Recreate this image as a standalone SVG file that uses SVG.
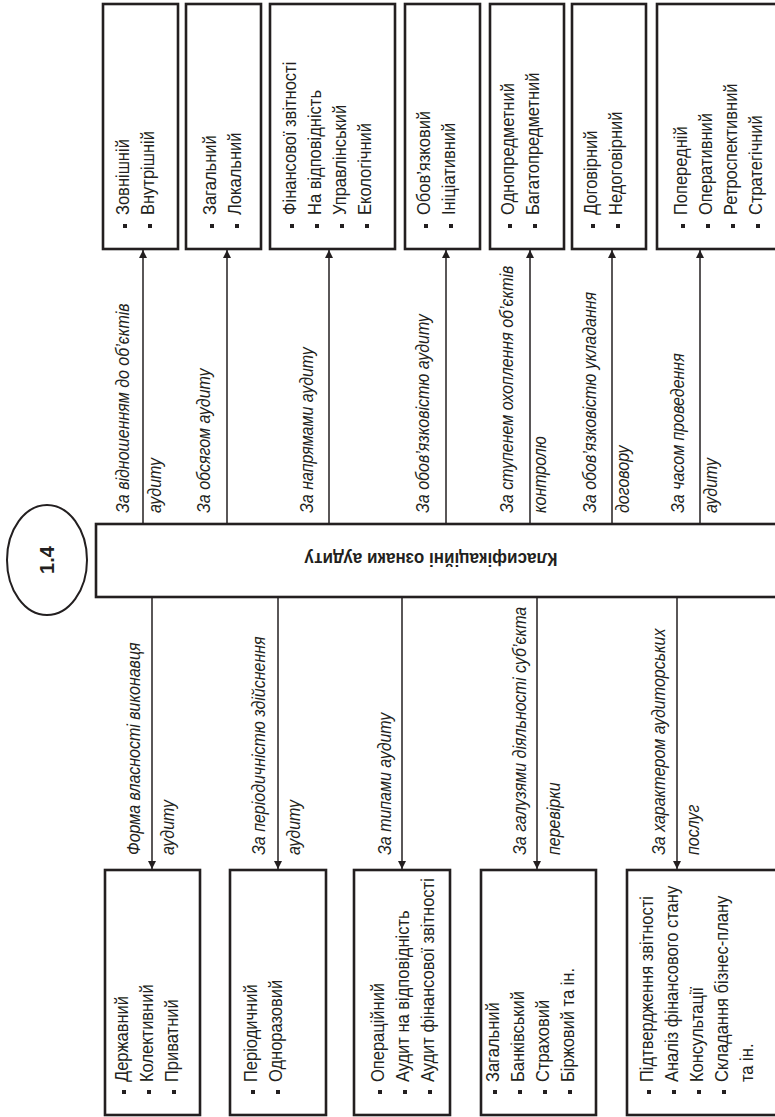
<svg xmlns="http://www.w3.org/2000/svg" width="775" height="1117" viewBox="0 0 775 1117">
  <style>
    .box { fill: #ffffff; stroke: #231f20; stroke-width: 2.6; }
    .badge { fill: #ffffff; stroke: #231f20; stroke-width: 2; }
    .item { font-family: "Liberation Sans", Arial, sans-serif; font-size: 16.5px; fill: #231f20; }
    .lbl { font-family: "Liberation Sans", Arial, sans-serif; font-style: italic; font-size: 16px; fill: #231f20; }
    .title { font-family: "Liberation Sans", Arial, sans-serif; font-weight: bold; font-size: 17px; fill: #231f20; }
    .num { font-family: "Liberation Sans", Arial, sans-serif; font-weight: bold; font-size: 20px; fill: #231f20; }
    .bul { fill: #231f20; }
    .conn { stroke: #231f20; stroke-width: 1.5; fill: none; marker-end: url(#ah); }
  </style>
  <defs>
    <marker id="ah" markerUnits="userSpaceOnUse" markerWidth="10" markerHeight="10" refX="8" refY="4" orient="auto">
      <path d="M0,0 L8,4 L0,8 Z" fill="#231f20"/>
    </marker>
  </defs>
  <rect width="775" height="1117" fill="#ffffff"/>

  <!-- badge with the figure number -->
  <g id="badge">
    <ellipse class="badge" cx="47" cy="560" rx="40" ry="55"/>
    <text class="num" text-anchor="middle" transform="translate(54,560) rotate(-90)">1.4</text>
  </g>

  <!-- central node -->
  <g id="central">
    <rect class="box" x="96" y="524" width="682" height="73"/>
    <text class="title" text-anchor="middle" transform="translate(431,553) rotate(180) scale(1,1.1)">Класифікаційні ознаки аудиту</text>
  </g>

  <!-- connectors and their labels -->
  <g id="connectors">
    <line class="conn" x1="143" y1="524" x2="143" y2="250"/>
    <line class="conn" x1="227" y1="524" x2="227" y2="250"/>
    <line class="conn" x1="329" y1="524" x2="329" y2="250"/>
    <line class="conn" x1="446" y1="524" x2="446" y2="250"/>
    <line class="conn" x1="530" y1="524" x2="530" y2="250"/>
    <line class="conn" x1="612" y1="524" x2="612" y2="250"/>
    <line class="conn" x1="700" y1="524" x2="700" y2="250"/>

    <line class="conn" x1="152" y1="597" x2="152" y2="869"/>
    <line class="conn" x1="278" y1="597" x2="278" y2="869"/>
    <line class="conn" x1="402" y1="597" x2="402" y2="869"/>
    <line class="conn" x1="537" y1="597" x2="537" y2="869"/>
    <line class="conn" x1="677" y1="597" x2="677" y2="869"/>

    <!-- upper labels -->
    <text class="lbl" transform="translate(129,513) rotate(-90) scale(1,1.1)">За відношенням до об’єктів</text>
    <text class="lbl" transform="translate(161,513) rotate(-90) scale(1,1.1)">аудиту</text>
    <text class="lbl" transform="translate(210,513) rotate(-90) scale(1,1.1)">За обсягом аудиту</text>
    <text class="lbl" transform="translate(313,513) rotate(-90) scale(1,1.1)">За напрямами аудиту</text>
    <text class="lbl" transform="translate(429,513) rotate(-90) scale(1,1.1)">За обов’язковістю аудиту</text>
    <text class="lbl" transform="translate(513,513) rotate(-90) scale(1,1.1)">За ступенем охоплення об’єктів</text>
    <text class="lbl" transform="translate(546,513) rotate(-90) scale(1,1.1)">контролю</text>
    <text class="lbl" transform="translate(596,513) rotate(-90) scale(1,1.1)">За обов’язковістю укладання</text>
    <text class="lbl" transform="translate(629,513) rotate(-90) scale(1,1.1)">договору</text>
    <text class="lbl" transform="translate(684,513) rotate(-90) scale(1,1.1)">За часом проведення</text>
    <text class="lbl" transform="translate(717,513) rotate(-90) scale(1,1.1)">аудиту</text>

    <!-- lower labels -->
    <text class="lbl" transform="translate(140,855) rotate(-90) scale(1,1.1)">Форма власності виконавця</text>
    <text class="lbl" transform="translate(174,855) rotate(-90) scale(1,1.1)">аудиту</text>
    <text class="lbl" transform="translate(265,855) rotate(-90) scale(1,1.1)">За періодичністю здійснення</text>
    <text class="lbl" transform="translate(300,855) rotate(-90) scale(1,1.1)">аудиту</text>
    <text class="lbl" transform="translate(391,855) rotate(-90) scale(1,1.1)">За типами аудиту</text>
    <text class="lbl" transform="translate(526,855) rotate(-90) scale(1,1.1)">За галузями діяльності суб’єкта</text>
    <text class="lbl" transform="translate(560,855) rotate(-90) scale(1,1.1)">перевірки</text>
    <text class="lbl" transform="translate(665,855) rotate(-90) scale(1,1.1)">За характером аудиторських</text>
    <text class="lbl" transform="translate(699,855) rotate(-90) scale(1,1.1)">послуг</text>
  </g>

  <!-- upper nodes -->
  <g id="t1">
    <rect class="box" x="103" y="4" width="75" height="245"/>
    <rect class="bul" x="123" y="224" width="4" height="4"/>
    <text class="item" transform="translate(129,215) rotate(-90) scale(1,1.1)">Зовнішній</text>
    <rect class="bul" x="148" y="224" width="4" height="4"/>
    <text class="item" transform="translate(154,215) rotate(-90) scale(1,1.1)">Внутрішній</text>
  </g>
  <g id="t2">
    <rect class="box" x="186" y="4" width="75" height="245"/>
    <rect class="bul" x="210" y="224" width="4" height="4"/>
    <text class="item" transform="translate(216,215) rotate(-90) scale(1,1.1)">Загальний</text>
    <rect class="bul" x="235" y="224" width="4" height="4"/>
    <text class="item" transform="translate(241,215) rotate(-90) scale(1,1.1)">Локальний</text>
  </g>
  <g id="t3">
    <rect class="box" x="270" y="4" width="125" height="245"/>
    <rect class="bul" x="290" y="224" width="4" height="4"/>
    <text class="item" transform="translate(296,215) rotate(-90) scale(1,1.1)">Фінансової звітності</text>
    <rect class="bul" x="315" y="224" width="4" height="4"/>
    <text class="item" transform="translate(321,215) rotate(-90) scale(1,1.1)">На відповідність</text>
    <rect class="bul" x="340" y="224" width="4" height="4"/>
    <text class="item" transform="translate(346,215) rotate(-90) scale(1,1.1)">Управлінський</text>
    <rect class="bul" x="365" y="224" width="4" height="4"/>
    <text class="item" transform="translate(371,215) rotate(-90) scale(1,1.1)">Екологічний</text>
  </g>
  <g id="t4">
    <rect class="box" x="405" y="4" width="75" height="245"/>
    <rect class="bul" x="424" y="224" width="4" height="4"/>
    <text class="item" transform="translate(430,215) rotate(-90) scale(1,1.1)">Обов’язковий</text>
    <rect class="bul" x="449" y="224" width="4" height="4"/>
    <text class="item" transform="translate(455,215) rotate(-90) scale(1,1.1)">Ініціативний</text>
  </g>
  <g id="t5">
    <rect class="box" x="490" y="4" width="74" height="245"/>
    <rect class="bul" x="508" y="224" width="4" height="4"/>
    <text class="item" transform="translate(514,215) rotate(-90) scale(1,1.1)">Однопредметний</text>
    <rect class="bul" x="533" y="224" width="4" height="4"/>
    <text class="item" transform="translate(539,215) rotate(-90) scale(1,1.1)">Багатопредметний</text>
  </g>
  <g id="t6">
    <rect class="box" x="572" y="4" width="74" height="245"/>
    <rect class="bul" x="591" y="224" width="4" height="4"/>
    <text class="item" transform="translate(597,215) rotate(-90) scale(1,1.1)">Договірний</text>
    <rect class="bul" x="616" y="224" width="4" height="4"/>
    <text class="item" transform="translate(622,215) rotate(-90) scale(1,1.1)">Недоговірний</text>
  </g>
  <g id="t7">
    <rect class="box" x="657" y="4" width="121" height="245"/>
    <rect class="bul" x="681" y="224" width="4" height="4"/>
    <text class="item" transform="translate(687,215) rotate(-90) scale(1,1.1)">Попередній</text>
    <rect class="bul" x="706" y="224" width="4" height="4"/>
    <text class="item" transform="translate(712,215) rotate(-90) scale(1,1.1)">Оперативний</text>
    <rect class="bul" x="731" y="224" width="4" height="4"/>
    <text class="item" transform="translate(737,215) rotate(-90) scale(1,1.1)">Ретроспективний</text>
    <rect class="bul" x="756" y="224" width="4" height="4"/>
    <text class="item" transform="translate(762,215) rotate(-90) scale(1,1.1)">Стратегічний</text>
  </g>

  <!-- lower nodes -->
  <g id="b1">
    <rect class="box" x="105" y="870" width="95" height="245"/>
    <rect class="bul" x="122" y="1090" width="4" height="4"/>
    <text class="item" transform="translate(128,1082) rotate(-90) scale(1,1.1)">Державний</text>
    <rect class="bul" x="147" y="1090" width="4" height="4"/>
    <text class="item" transform="translate(153,1082) rotate(-90) scale(1,1.1)">Колективний</text>
    <rect class="bul" x="172" y="1090" width="4" height="4"/>
    <text class="item" transform="translate(178,1082) rotate(-90) scale(1,1.1)">Приватний</text>
  </g>
  <g id="b2">
    <rect class="box" x="230" y="870" width="96" height="245"/>
    <rect class="bul" x="251" y="1090" width="4" height="4"/>
    <text class="item" transform="translate(257,1082) rotate(-90) scale(1,1.1)">Періодичний</text>
    <rect class="bul" x="276" y="1090" width="4" height="4"/>
    <text class="item" transform="translate(282,1082) rotate(-90) scale(1,1.1)">Одноразовий</text>
  </g>
  <g id="b3">
    <rect class="box" x="354" y="870" width="96" height="245"/>
    <rect class="bul" x="378" y="1090" width="4" height="4"/>
    <text class="item" transform="translate(384,1082) rotate(-90) scale(1,1.1)">Операційний</text>
    <rect class="bul" x="403" y="1090" width="4" height="4"/>
    <text class="item" transform="translate(409,1082) rotate(-90) scale(1,1.1)">Аудит на відповідність</text>
    <rect class="bul" x="428" y="1090" width="4" height="4"/>
    <text class="item" transform="translate(434,1082) rotate(-90) scale(1,1.1)">Аудит фінансової звітності</text>
  </g>
  <g id="b4">
    <rect class="box" x="481" y="870" width="115" height="245"/>
    <rect class="bul" x="493" y="1090" width="4" height="4"/>
    <text class="item" transform="translate(499,1082) rotate(-90) scale(1,1.1)">Загальний</text>
    <rect class="bul" x="518" y="1090" width="4" height="4"/>
    <text class="item" transform="translate(524,1082) rotate(-90) scale(1,1.1)">Банківський</text>
    <rect class="bul" x="543" y="1090" width="4" height="4"/>
    <text class="item" transform="translate(549,1082) rotate(-90) scale(1,1.1)">Страховий</text>
    <rect class="bul" x="568" y="1090" width="4" height="4"/>
    <text class="item" transform="translate(574,1082) rotate(-90) scale(1,1.1)">Біржовий та ін.</text>
  </g>
  <g id="b5">
    <rect class="box" x="627" y="870" width="151" height="245"/>
    <rect class="bul" x="647" y="1090" width="4" height="4"/>
    <text class="item" transform="translate(653,1082) rotate(-90) scale(1,1.1)">Підтвердження звітності</text>
    <rect class="bul" x="672" y="1090" width="4" height="4"/>
    <text class="item" transform="translate(678,1082) rotate(-90) scale(1,1.1)">Аналіз фінансового стану</text>
    <rect class="bul" x="697" y="1090" width="4" height="4"/>
    <text class="item" transform="translate(703,1082) rotate(-90) scale(1,1.1)">Консультації</text>
    <rect class="bul" x="722" y="1090" width="4" height="4"/>
    <text class="item" transform="translate(728,1082) rotate(-90) scale(1,1.1)">Складання бізнес-плану</text>
    <text class="item" transform="translate(753,1082) rotate(-90) scale(1,1.1)">та ін.</text>
  </g>
</svg>
